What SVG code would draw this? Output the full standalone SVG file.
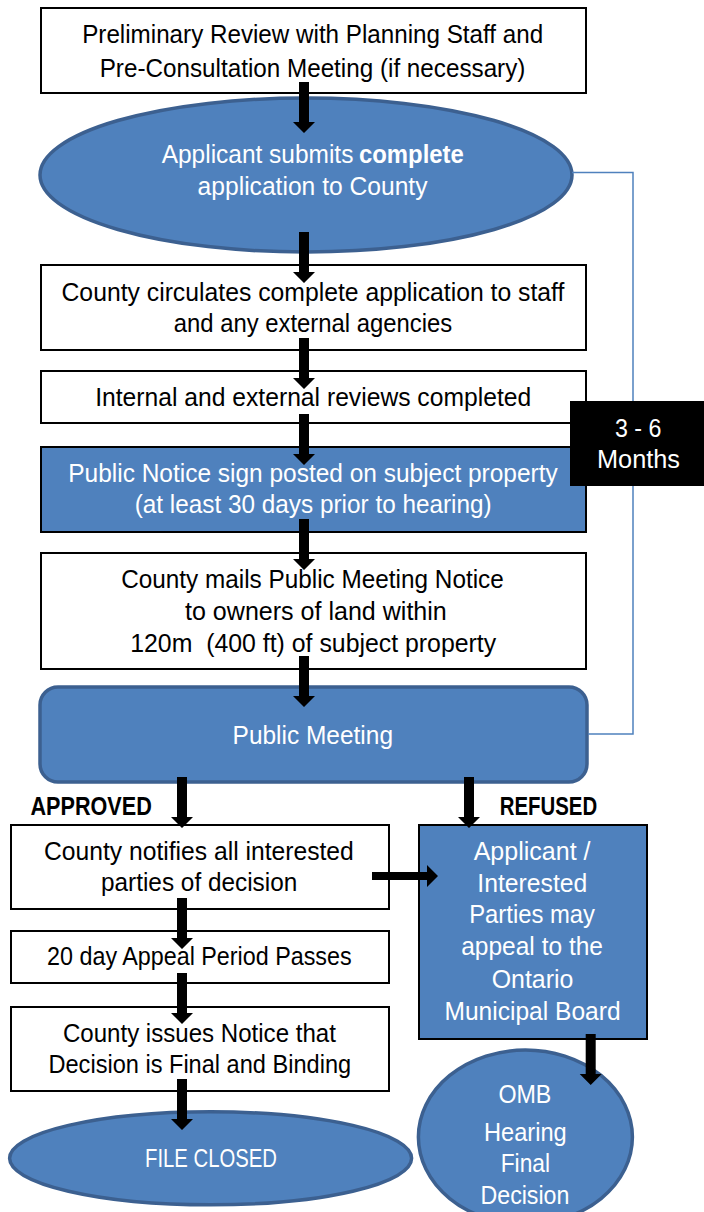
<svg xmlns="http://www.w3.org/2000/svg" xmlns:xlink="http://www.w3.org/1999/xlink" width="704" height="1212" viewBox="0 0 704 1212">
<style>
text{font-family:"Liberation Sans",Arial,sans-serif;font-size:25px}
.w{fill:#ffffff}
.k{fill:#000000}
.b{font-weight:bold}
.box{fill:#ffffff;stroke:#000000;stroke-width:2}
.bbox{fill:#4f81bd;stroke:#000000;stroke-width:2}
.ell{fill:#4f81bd;stroke:#3c6090;stroke-width:3.5}
.arr{fill:#000000}
.link{fill:none;stroke:#4f81bd;stroke-width:1.5}
</style>
<defs>
<path id="down" d="M-5,-51 H5 V-11 H11 L0,0 L-11,-11 H-5 Z"/>
</defs>
<rect width="704" height="1212" fill="#ffffff"/>
<g id="n1">
<rect class="box" x="41" y="8" width="545" height="85"/>
<text class="k" x="82.2" y="43.3" textLength="461" lengthAdjust="spacingAndGlyphs">Preliminary Review with Planning Staff and</text>
<text class="k" x="99.7" y="76.7" textLength="425.7" lengthAdjust="spacingAndGlyphs">Pre-Consultation Meeting (if necessary)</text>
</g>
<g id="n2">
<ellipse class="ell" cx="306" cy="175" rx="266" ry="77"/>
<text class="w" y="163.3"><tspan x="161.7" textLength="191.7" lengthAdjust="spacingAndGlyphs">Applicant submits</tspan><tspan class="b" x="359" textLength="104.8" lengthAdjust="spacingAndGlyphs">complete</tspan></text>
<text class="w" x="197.6" y="195" textLength="229.9" lengthAdjust="spacingAndGlyphs">application to County</text>
</g>
<g id="n3">
<rect class="box" x="41" y="265" width="545" height="85"/>
<text class="k" x="61.5" y="301" textLength="502.9" lengthAdjust="spacingAndGlyphs">County circulates complete application to staff</text>
<text class="k" x="173.8" y="331.7" textLength="278.4" lengthAdjust="spacingAndGlyphs">and any external agencies</text>
</g>
<g id="n4">
<rect class="box" x="41" y="371" width="545" height="52"/>
<text class="k" x="95.2" y="405.7" textLength="436" lengthAdjust="spacingAndGlyphs">Internal and external reviews completed</text>
</g>
<g id="n5">
<rect class="bbox" x="41" y="447" width="545" height="85"/>
<text class="w" x="68.3" y="481.7" textLength="489.4" lengthAdjust="spacingAndGlyphs">Public Notice sign posted on subject property</text>
<text class="w" x="134.7" y="513.3" textLength="357" lengthAdjust="spacingAndGlyphs">(at least 30 days prior to hearing)</text>
</g>
<g id="n6">
<rect class="box" x="41" y="553" width="545" height="116"/>
<text class="k" x="121.2" y="588.3" textLength="382.6" lengthAdjust="spacingAndGlyphs">County mails Public Meeting Notice</text>
<text class="k" x="185" y="620" textLength="261.8" lengthAdjust="spacingAndGlyphs">to owners of land within</text>
<text class="k" x="130.2" y="651.7" textLength="366" lengthAdjust="spacingAndGlyphs" xml:space="preserve">120m  (400 ft) of subject property</text>
</g>
<g id="n7">
<rect class="ell" x="40" y="687" width="547" height="95" rx="18" ry="18"/>
<text class="w" x="232.6" y="744" textLength="160.4" lengthAdjust="spacingAndGlyphs">Public Meeting</text>
</g>
<g id="labels">
<text class="k b" x="30.5" y="815" textLength="121.3" lengthAdjust="spacingAndGlyphs">APPROVED</text>
<text class="k b" x="499.8" y="815" textLength="97.4" lengthAdjust="spacingAndGlyphs">REFUSED</text>
</g>
<g id="n8">
<rect class="box" x="11" y="825" width="378" height="84"/>
<text class="k" x="44" y="860" textLength="309.8" lengthAdjust="spacingAndGlyphs">County notifies all interested</text>
<text class="k" x="101" y="890.7" textLength="196.3" lengthAdjust="spacingAndGlyphs">parties of decision</text>
</g>
<g id="n9">
<rect class="bbox" x="419" y="825" width="228" height="214"/>
<text class="w" x="473.7" y="860" textLength="116.8" lengthAdjust="spacingAndGlyphs">Applicant /</text>
<text class="w" x="477.3" y="891.7" textLength="110" lengthAdjust="spacingAndGlyphs">Interested</text>
<text class="w" x="469.2" y="923.3" textLength="125.8" lengthAdjust="spacingAndGlyphs">Parties may</text>
<text class="w" x="461.2" y="955" textLength="141.8" lengthAdjust="spacingAndGlyphs">appeal to the</text>
<text class="w" x="491.7" y="988.3" textLength="81.7" lengthAdjust="spacingAndGlyphs">Ontario</text>
<text class="w" x="444.5" y="1020" textLength="176.1" lengthAdjust="spacingAndGlyphs">Municipal Board</text>
</g>
<g id="n10">
<rect class="box" x="11" y="931" width="378" height="52"/>
<text class="k" x="47.1" y="965" textLength="304.5" lengthAdjust="spacingAndGlyphs">20 day Appeal Period Passes</text>
</g>
<g id="n11">
<rect class="box" x="11" y="1007" width="378" height="84"/>
<text class="k" x="62.9" y="1041.7" textLength="273" lengthAdjust="spacingAndGlyphs">County issues Notice that</text>
<text class="k" x="48.5" y="1073.3" textLength="302.6" lengthAdjust="spacingAndGlyphs">Decision is Final and Binding</text>
</g>
<g id="n12">
<ellipse class="ell" cx="210.6" cy="1158.3" rx="201" ry="46.5"/>
<text class="w" x="145" y="1166.7" textLength="132" lengthAdjust="spacingAndGlyphs">FILE CLOSED</text>
</g>
<g id="n13">
<ellipse class="ell" cx="525.4" cy="1137" rx="107" ry="87"/>
<text class="w" x="498.4" y="1103.3" textLength="53" lengthAdjust="spacingAndGlyphs">OMB</text>
<text class="w" x="484" y="1141" textLength="82.7" lengthAdjust="spacingAndGlyphs">Hearing</text>
<text class="w" x="500.7" y="1172.3" textLength="49.3" lengthAdjust="spacingAndGlyphs">Final</text>
<text class="w" x="480.5" y="1204.3" textLength="88.9" lengthAdjust="spacingAndGlyphs">Decision</text>
</g>
<g id="connectors">
<path class="link" d="M572,172.5 H633 V734 H588"/>
<use xlink:href="#down" class="arr" x="304" y="133"/>
<use xlink:href="#down" class="arr" x="304" y="283"/>
<use xlink:href="#down" class="arr" x="304" y="389"/>
<use xlink:href="#down" class="arr" x="304" y="465"/>
<use xlink:href="#down" class="arr" x="304" y="570"/>
<use xlink:href="#down" class="arr" x="304" y="707"/>
<use xlink:href="#down" class="arr" x="182" y="828"/>
<use xlink:href="#down" class="arr" x="469" y="828"/>
<use xlink:href="#down" class="arr" x="182" y="949"/>
<use xlink:href="#down" class="arr" x="182" y="1024"/>
<use xlink:href="#down" class="arr" x="182" y="1130"/>
<use xlink:href="#down" class="arr" x="590.7" y="1085"/>
<path class="arr" d="M372,872 H427 V865 L438,876 L427,887 V880 H372 Z"/>
</g>
<g id="n14">
<rect x="570" y="401" width="134" height="85" fill="#000000"/>
<text class="w" x="615" y="436.7" textLength="46.4" lengthAdjust="spacingAndGlyphs">3 - 6</text>
<text class="w" x="597" y="468.3" textLength="83" lengthAdjust="spacingAndGlyphs">Months</text>
</g>
</svg>
